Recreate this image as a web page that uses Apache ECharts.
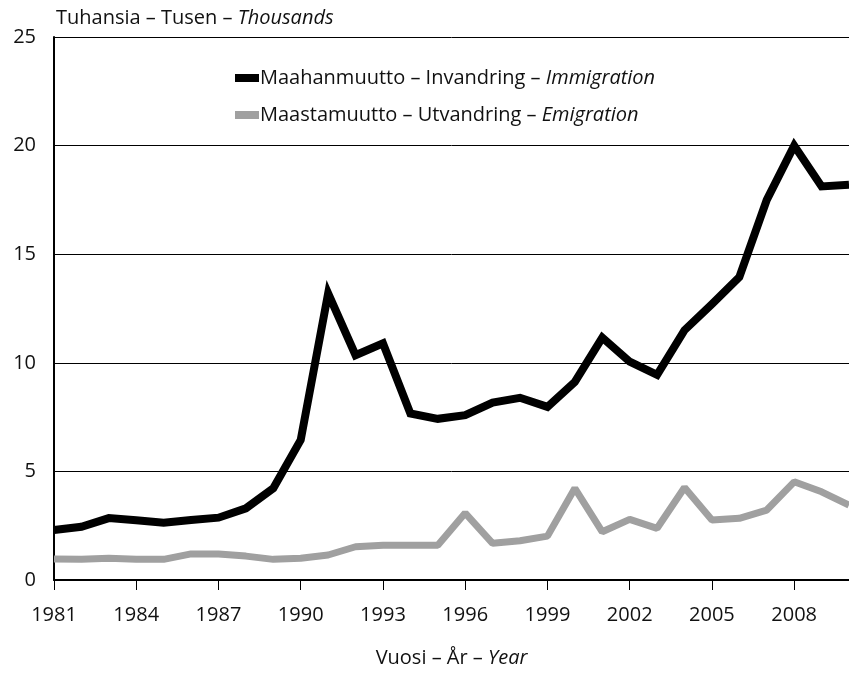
<!DOCTYPE html>
<html>
<head>
<meta charset="utf-8">
<script src="https://cdn.jsdelivr.net/npm/echarts@6/dist/echarts.min.js"></script>
<style>html,body{margin:0;padding:0;background:#fff}#c{width:849px;height:674px}</style>
</head>
<body>
<div id="c"></div>
<script>
const years = [1981,1982,1983,1984,1985,1986,1987,1988,1989,1990,1991,1992,1993,1994,1995,1996,1997,1998,1999,2000,2001,2002,2003,2004,2005,2006,2007,2008,2009,2010];
const immigration = [2.3,2.45,2.85,2.75,2.64,2.76,2.87,3.3,4.22,6.45,13.2,10.35,10.9,7.67,7.42,7.59,8.17,8.39,7.97,9.12,11.16,10.05,9.45,11.5,12.7,13.95,17.5,20.0,18.12,18.2];
const emigration = [0.97,0.95,1.0,0.95,0.95,1.2,1.2,1.1,0.95,1.0,1.15,1.53,1.6,1.6,1.6,3.08,1.69,1.81,2.02,4.22,2.22,2.79,2.38,4.26,2.76,2.84,3.22,4.52,4.06,3.45];
const yTicks = [0,5,10,15,20,25];
const seriesNames = ['Maahanmuutto – Invandring – Immigration','Maastamuutto – Utvandring – Emigration'];
const legendLabels = {
  'Maahanmuutto – Invandring – Immigration': 'Maahanmuutto – Invandring – {i|Immigration}',
  'Maastamuutto – Utvandring – Emigration': 'Maastamuutto – Utvandring – {i|Emigration}'
};
const FONT = '"Open Sans", "Noto Sans", sans-serif';
const chart = echarts.init(document.getElementById('c'), null, {renderer:'canvas'});
chart.setOption({
  animation:false,
  textStyle:{fontFamily:FONT},
  grid:{left:54,right:0,top:37,bottom:94},
  legend:{
    orient:'vertical', left:230, top:63, itemGap:17,
    icon:'rect', itemWidth:24, itemHeight:8,
    textStyle:{fontFamily:FONT,fontSize:20,color:'#111',padding:[0,0,0,-4],
      rich:{i:{fontStyle:'italic',fontFamily:FONT,fontSize:20,color:'#111'}}},
    formatter:n=>legendLabels[n]
  },
  xAxis:{
    type:'category', data:years.map(String), boundaryGap:false,
    axisLine:{lineStyle:{color:'#000',width:2}},
    axisTick:{show:true,length:10,interval:2,lineStyle:{color:'#000',width:1}},
    axisLabel:{interval:2,margin:25,fontFamily:FONT,fontSize:20,color:'#111'},
    splitLine:{show:false},
    name:'{n|Vuosi – År – }{i|Year}', nameLocation:'middle', nameGap:68,
    nameTextStyle:{rich:{n:{fontFamily:FONT,fontSize:20,color:'#111'},i:{fontFamily:FONT,fontSize:20,color:'#111',fontStyle:'italic'}}}
  },
  yAxis:{
    type:'value', min:0, max:25, interval:5,
    axisLine:{show:true,lineStyle:{color:'#000',width:2}},
    axisTick:{show:false},
    axisLabel:{margin:18,fontFamily:FONT,fontSize:20,color:'#111',formatter:v=>yTicks.includes(v)?String(v):''},
    splitLine:{show:true,lineStyle:{color:'#000',width:1}},
    name:'{n|Tuhansia – Tusen – }{i|Thousands}', nameLocation:'end', nameGap:9,
    nameTextStyle:{align:'left',padding:[0,0,0,2],rich:{n:{fontFamily:FONT,fontSize:20,color:'#111'},i:{fontFamily:FONT,fontSize:20,color:'#111',fontStyle:'italic'}}}
  },
  series:[
    {name:seriesNames[0],type:'line',data:immigration,showSymbol:false,symbol:'none',
     lineStyle:{color:'#000',width:8,join:'miter'},itemStyle:{color:'#000'},z:3},
    {name:seriesNames[1],type:'line',data:emigration,showSymbol:false,symbol:'none',
     lineStyle:{color:'#a0a0a0',width:7},itemStyle:{color:'#a0a0a0'},z:2}
  ]
});
</script>
</body>
</html>
